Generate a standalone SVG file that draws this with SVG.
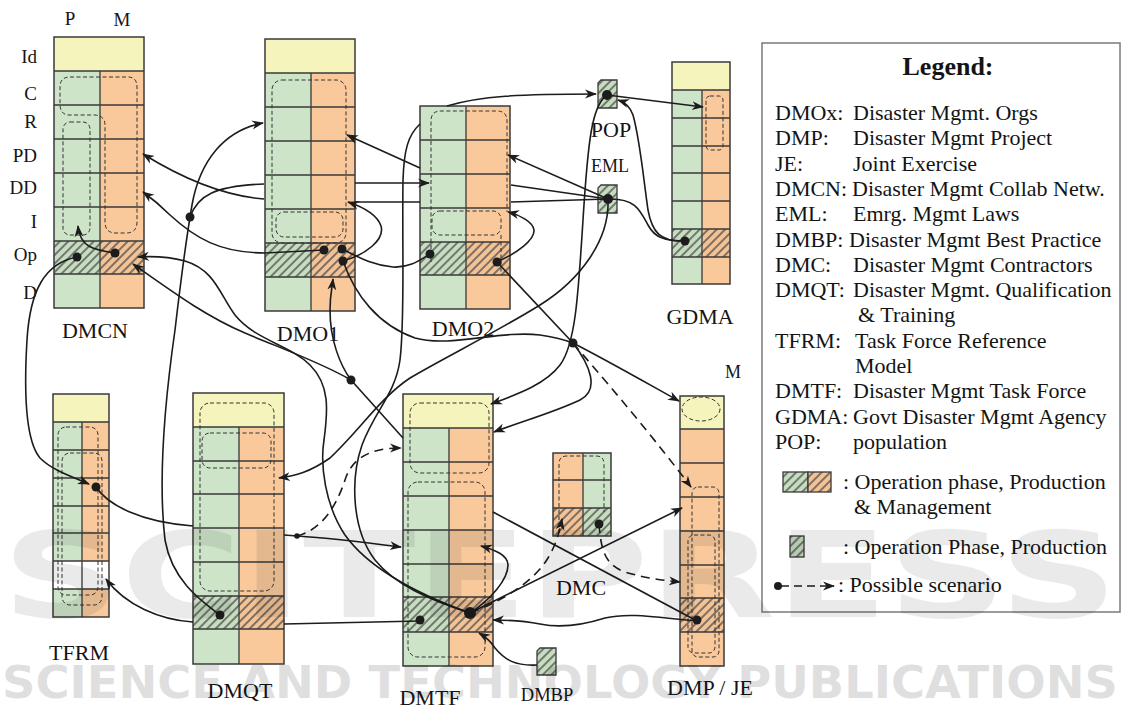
<svg xmlns="http://www.w3.org/2000/svg" width="1121" height="714" viewBox="0 0 1121 714">
<defs>
<style>
.y{fill:#f5f4bc}.g{fill:#cde4c8}.o{fill:#f9c99b}.w{fill:#ffffff}
.hg{fill:url(#hatchG)}.ho{fill:url(#hatchO)}
.grid{fill:none;stroke:#3a3a3a;stroke-width:1.3}
.frame{fill:none;stroke:#3a3a3a;stroke-width:1.5}
.sm{stroke:#3a3a3a;stroke-width:1.3}
.dsh{fill:none;stroke:#333;stroke-width:1;stroke-dasharray:4 2.5}
.c{fill:none;stroke:#1c1c1c;stroke-width:1.6}
.ca{marker-end:url(#arr)}
.cd{stroke-dasharray:9 6}
.dot{fill:#1c1c1c}
.t{font-family:"Liberation Serif","Times New Roman",serif;fill:#141414}
.nl{font-size:22px;text-anchor:middle}
.rl{font-size:19px;text-anchor:end}
.lg{font-size:22px}
</style>
<pattern id="hatchG" patternUnits="userSpaceOnUse" width="6" height="6" patternTransform="rotate(45)">
<rect width="6" height="6" fill="#c6ddc0"/>
<line x1="3" y1="0" x2="3" y2="6" stroke="#4d4d4d" stroke-width="1.4"/>
</pattern>
<pattern id="hatchO" patternUnits="userSpaceOnUse" width="6" height="6" patternTransform="rotate(45)">
<rect width="6" height="6" fill="#f3c295"/>
<line x1="3" y1="0" x2="3" y2="6" stroke="#4d4d4d" stroke-width="1.4"/>
</pattern>
<marker id="arr" viewBox="0 0 12 10" refX="11" refY="5" markerWidth="12" markerHeight="10" markerUnits="userSpaceOnUse" orient="auto">
<path d="M0,0.5 L12,5 L0,9.5 L3.5,5 Z" fill="#1c1c1c"/>
</marker>
</defs>
<rect width="1121" height="714" fill="#ffffff"/>

<g id="DMCN">
<rect class="y" x="54" y="37" width="90" height="34"/>
<rect class="g" x="54" y="71" width="46" height="237"/>
<rect class="o" x="100" y="71" width="44" height="237"/>
<rect class="hg" x="54" y="241" width="46" height="33"/>
<rect class="ho" x="100" y="241" width="44" height="33"/>
<path class="grid" d="M54,71H144M54,105H144M54,139H144M54,173H144M54,207H144M54,241H144M54,274H144M100,71V308"/>
<rect class="frame" x="54" y="37" width="90" height="271"/>
<path class="dsh" d="M70,77 H128 Q137,77 137,87 V222 Q137,233 126,233 H116 Q105,233 105,222 V125 Q105,116 95,115 H68 Q60,114 60,104 V87 Q60,77 70,77 Z"/>
<rect class="dsh" x="63" y="122" width="27" height="113" rx="7"/>
<text class="t" x="70" y="25" font-size="19" text-anchor="middle">P</text>
<text class="t" x="122" y="26" font-size="19" text-anchor="middle">M</text>
<text class="t rl" x="37" y="63">Id</text>
<text class="t rl" x="37" y="100">C</text>
<text class="t rl" x="37" y="128">R</text>
<text class="t rl" x="37" y="162">PD</text>
<text class="t rl" x="37" y="194">DD</text>
<text class="t rl" x="37" y="228">I</text>
<text class="t rl" x="37" y="261">Op</text>
<text class="t rl" x="37" y="299">D</text>
<text class="t nl" x="95" y="338">DMCN</text>
</g>

<g id="DMO1">
<rect class="y" x="265" y="39" width="90" height="34"/>
<rect class="g" x="265" y="73" width="46" height="238"/>
<rect class="o" x="311" y="73" width="44" height="238"/>
<rect class="hg" x="265" y="243" width="46" height="34"/>
<rect class="ho" x="311" y="243" width="44" height="34"/>
<path class="grid" d="M265,73H355M265,107H355M265,141H355M265,175H355M265,209H355M265,243H355M265,277H355M311,73V311"/>
<rect class="frame" x="265" y="39" width="90" height="272"/>
<rect class="dsh" x="272" y="80" width="74" height="163" rx="10"/>
<rect class="dsh" x="276" y="212" width="67" height="25" rx="8"/>
<text class="t nl" x="308" y="341">DMO1</text>
</g>

<g id="DMO2">
<rect class="g" x="420" y="106" width="46" height="203"/>
<rect class="o" x="466" y="106" width="44" height="203"/>
<rect class="hg" x="420" y="242" width="46" height="33"/>
<rect class="ho" x="466" y="242" width="44" height="33"/>
<path class="grid" d="M420,140H510M420,174H510M420,208H510M420,242H510M420,275H510M466,106V309"/>
<rect class="frame" x="420" y="106" width="90" height="203"/>
<path class="dsh" d="M431,262 V121 Q431,111 441,111 H497 Q507,111 507,121 V212"/>
<rect class="dsh" x="432" y="211" width="69" height="24" rx="8"/>
<path class="dsh" d="M501,235 V272"/>
<text class="t nl" x="463" y="336">DMO2</text>
</g>

<g id="GDMA">
<rect class="y" x="672" y="62" width="58" height="28"/>
<rect class="g" x="672" y="90" width="30" height="194"/>
<rect class="o" x="702" y="90" width="28" height="194"/>
<rect class="hg" x="672" y="229" width="30" height="28"/>
<rect class="ho" x="702" y="229" width="28" height="28"/>
<path class="grid" d="M672,90H730M672,118H730M672,146H730M672,173H730M672,201H730M672,229H730M672,257H730M702,90V284"/>
<rect class="frame" x="672" y="62" width="58" height="222"/>
<rect class="dsh" x="706" y="96" width="17" height="54" rx="4"/>
<text class="t nl" x="700" y="324">GDMA</text>
</g>

<g id="POP">
<path class="hg sm" d="M601,80 H617 V108 H598 V83 Z"/>
<text class="t" x="611" y="137" font-size="22" text-anchor="middle">POP</text>
</g>

<g id="EML">
<path class="hg sm" d="M601,185 H617 V213 H598 V188 Z"/>
<text class="t" x="610" y="172" font-size="18" text-anchor="middle">EML</text>
</g>

<g id="TFRM">
<rect class="y" x="53" y="394" width="56" height="28"/>
<rect class="g" x="53" y="422" width="29" height="195"/>
<rect class="o" x="82" y="422" width="27" height="195"/>
<rect class="w" x="53" y="561" width="56" height="28"/>
<path class="grid" d="M53,422H109M53,450H109M53,478H109M53,506H109M53,533H109M53,561H109M53,589H109M82,422V617"/>
<rect class="frame" x="53" y="394" width="56" height="223"/>
<rect class="dsh" x="58" y="427" width="40" height="168" rx="8"/>
<rect class="dsh" x="62" y="453" width="40" height="152" rx="8"/>
<text class="t nl" x="79" y="660">TFRM</text>
</g>

<g id="DMQT">
<rect class="y" x="193" y="393" width="91" height="34"/>
<rect class="g" x="193" y="427" width="46" height="237"/>
<rect class="o" x="239" y="427" width="45" height="237"/>
<rect class="hg" x="193" y="596" width="46" height="33"/>
<rect class="ho" x="239" y="596" width="45" height="33"/>
<path class="grid" d="M193,427H284M193,461H284M193,494H284M193,528H284M193,562H284M193,596H284M193,629H284M239,427V664"/>
<rect class="frame" x="193" y="393" width="91" height="271"/>
<rect class="dsh" x="200" y="403" width="74" height="188" rx="10"/>
<rect class="dsh" x="202" y="433" width="69" height="35" rx="8"/>
<text class="t nl" x="240" y="698">DMQT</text>
</g>

<g id="DMTF">
<rect class="y" x="403" y="394" width="90" height="34"/>
<rect class="g" x="403" y="428" width="46" height="238"/>
<rect class="o" x="449" y="428" width="44" height="238"/>
<rect class="hg" x="403" y="597" width="46" height="35"/>
<rect class="ho" x="449" y="597" width="44" height="35"/>
<path class="grid" d="M403,428H493M403,462H493M403,496H493M403,530H493M403,564H493M403,597H493M403,632H493M449,428V666"/>
<rect class="frame" x="403" y="394" width="90" height="272"/>
<rect class="dsh" x="410" y="403" width="79" height="70" rx="10"/>
<rect class="dsh" x="408" y="482" width="77" height="175" rx="10"/>
<text class="t nl" x="430" y="705">DMTF</text>
</g>

<g id="DMC">
<rect class="o" x="553" y="453" width="30" height="83"/>
<rect class="g" x="583" y="453" width="28" height="83"/>
<rect class="ho" x="553" y="508" width="30" height="28"/>
<rect class="hg" x="583" y="508" width="28" height="28"/>
<path class="grid" d="M553,480H611M553,508H611M583,453V536"/>
<rect class="frame" x="553" y="453" width="58" height="83"/>
<path class="dsh" d="M559,533 V464 Q559,456 567,456 H596 Q604,456 604,464 V512"/>
<text class="t nl" x="581" y="595">DMC</text>
</g>

<g id="DMBP">
<path class="hg sm" d="M540,648 H556 V675 H537 V651 Z"/>
<text class="t" x="547" y="701" font-size="18.5" text-anchor="middle">DMBP</text>
</g>

<g id="DMP_JE">
<rect class="y" x="680" y="396" width="44" height="33"/>
<rect class="o" x="680" y="429" width="44" height="237"/>
<rect class="ho" x="680" y="598" width="44" height="34"/>
<path class="grid" d="M680,429H724M680,463H724M680,497H724M680,531H724M680,565H724M680,598H724M680,632H724"/>
<rect class="frame" x="680" y="396" width="44" height="270"/>
<ellipse class="dsh" cx="701" cy="409" rx="19" ry="12"/>
<rect class="dsh" x="692" y="487" width="27" height="170" rx="6"/>
<rect class="dsh" x="688" y="535" width="27" height="118" rx="6"/>
<text class="t" x="733" y="378" font-size="18" text-anchor="middle">M</text>
<text class="t nl" x="710" y="695">DMP / JE</text>
</g>

<g id="connectors">
<path class="c ca" d="M77,257 C45,263 30,290 27,340 C24,390 25,440 40,458 C52,470 70,476 89,484"/>
<path class="c ca" d="M115,253 C95,250 80,248 78,226"/>
<path class="c" d="M96,487 C108,505 140,522 193,526"/>
<path class="c ca" d="M284,535 L297,536 C330,538 370,543 401,547"/>
<path class="c ca cd" d="M297,536 C320,530 335,510 345,480 C352,458 370,448 401,448"/>
<path class="c" d="M608,199 L511,202"/>
<path class="c" d="M420,202 L355,202"/>
<path class="c ca" d="M264,199 C225,196 185,180 143,154"/>
<path class="c" d="M608,199 L511,185"/>
<path class="c ca" d="M420,168 L347,135"/>
<path class="c ca" d="M608,199 L508,155"/>
<path class="c" d="M190,217 C198,195 215,186 264,184"/>
<path class="c ca" d="M355,183 L429,183"/>
<path class="c ca" d="M220,615 C200,600 172,580 165,540 C158,480 165,400 175,330 C182,270 186,240 192,205 C200,160 225,130 263,123"/>
<path class="c ca" d="M193,622 C160,620 125,605 106,579"/>
<path class="c" d="M284,624 L420,621"/>
<path class="c ca" d="M324,250 L265,253 C220,253 195,238 170,215 C160,205 150,197 143,192"/>
<path class="c" d="M342,249 C355,255 370,265 393,267 C410,268 420,260 430,254"/>
<path class="c ca" d="M343,261 C365,255 385,240 381,226 C377,214 360,206 348,202"/>
<path class="c" d="M343,261 C355,295 378,325 415,338 C450,348 500,330 540,335 C555,337 565,340 573,343"/>
<path class="c" d="M497,262 L573,343"/>
<path class="c ca" d="M497,262 C517,253 535,240 534,230 C533,222 520,215 508,212"/>
<path class="c ca" d="M573,343 C610,362 650,385 679,401"/>
<path class="c ca cd" d="M573,343 C600,375 640,420 691,487"/>
<path class="c ca" d="M573,343 C590,365 600,390 580,400 C555,412 520,422 494,432"/>
<path class="c ca" d="M607,95 C592,105 588,140 583,220 C578,300 575,345 560,365 C545,385 515,395 491,404"/>
<path class="c ca" d="M607,95 L703,107"/>
<path class="c ca" d="M685,241 C660,242 652,232 648,210 C643,175 640,140 633,115 C630,106 624,102 618,100"/>
<path class="c" d="M608,199 C635,198 640,210 648,225 C655,238 665,241 685,241"/>
<path class="c ca" d="M608,199 C610,240 580,280 540,305 C500,330 440,360 410,378 C380,398 360,430 330,458 C310,472 295,476 279,478"/>
<path class="c" d="M470,613 C430,600 395,585 375,560 C352,530 350,480 362,445 C375,410 395,395 400,360 C405,320 402,250 403,180 C404,150 408,135 420,124"/>
<path class="c ca" d="M447,106 C480,96 520,94 596,94"/>
<path class="c ca" d="M470,613 C420,595 370,570 345,535 C325,505 320,465 324,440 C328,410 330,385 310,365 C290,345 255,340 235,315 C220,295 215,270 185,261 C170,257 155,256 138,257"/>
<path class="c ca" d="M351,380 C320,362 280,348 245,333 C205,316 170,290 133,264"/>
<path class="c ca" d="M351,380 C340,365 330,340 330,310 C330,295 332,288 333,279"/>
<path class="c" d="M351,380 L403,438"/>
<path class="c" d="M493,512 L697,621"/>
<path class="c ca" d="M470,613 L682,508"/>
<path class="c ca cd" d="M470,613 C505,600 535,580 548,558 C556,545 560,530 562,519"/>
<path class="c ca" d="M470,613 C490,600 508,580 508,565 C508,555 495,550 481,546"/>
<path class="c ca" d="M697,621 C660,618 630,612 605,618 C580,626 560,628 540,624 C520,620 505,620 493,620"/>
<path class="c ca" d="M537,665 C515,666 505,660 495,648 C490,640 484,636 479,633"/>
<path class="c ca cd" d="M599,524 C601,550 605,565 625,572 C645,578 660,580 680,582"/>
<circle class="dot" cx="77" cy="257" r="4.5"/>
<circle class="dot" cx="115" cy="253" r="4.5"/>
<circle class="dot" cx="324" cy="250" r="4.5"/>
<circle class="dot" cx="342" cy="249" r="4.5"/>
<circle class="dot" cx="343" cy="261" r="4.5"/>
<circle class="dot" cx="430" cy="254" r="4.5"/>
<circle class="dot" cx="497" cy="262" r="4.5"/>
<circle class="dot" cx="607" cy="95" r="5"/>
<circle class="dot" cx="608" cy="199" r="5"/>
<circle class="dot" cx="685" cy="241" r="4.5"/>
<circle class="dot" cx="190" cy="217" r="4.5"/>
<circle class="dot" cx="351" cy="380" r="4.5"/>
<circle class="dot" cx="573" cy="343" r="4.5"/>
<circle class="dot" cx="96" cy="487" r="4.5"/>
<circle class="dot" cx="220" cy="615" r="4.5"/>
<circle class="dot" cx="420" cy="620" r="4.5"/>
<circle class="dot" cx="470" cy="613" r="6"/>
<circle class="dot" cx="599" cy="524" r="4.5"/>
<circle class="dot" cx="697" cy="620" r="4.5"/>
<circle class="dot" cx="297" cy="536" r="2.8"/>
</g>

<g id="legend">
<rect x="762" y="43" width="358" height="569" fill="#ffffff" stroke="#7a7a7a" stroke-width="1.5"/>
<text class="t" x="948" y="75" font-size="26" font-weight="bold" text-anchor="middle">Legend:</text>
<g class="t lg">
<text x="775" y="120">DMOx:</text><text x="853" y="120">Disaster Mgmt. Orgs</text>
<text x="775" y="145">DMP:</text><text x="853" y="145">Disaster Mgmt Project</text>
<text x="775" y="171">JE:</text><text x="853" y="171">Joint Exercise</text>
<text x="775" y="196">DMCN:</text><text x="852" y="196">Disaster Mgmt Collab Netw.</text>
<text x="775" y="221">EML:</text><text x="853" y="221">Emrg. Mgmt Laws</text>
<text x="775" y="247">DMBP:</text><text x="849" y="247">Disaster Mgmt Best Practice</text>
<text x="775" y="272">DMC:</text><text x="853" y="272">Disaster Mgmt Contractors</text>
<text x="775" y="297">DMQT:</text><text x="853" y="297">Disaster Mgmt. Qualification</text>
<text x="858" y="322">&amp; Training</text>
<text x="775" y="348">TFRM:</text><text x="855" y="348">Task Force Reference</text>
<text x="855" y="373">Model</text>
<text x="775" y="398">DMTF:</text><text x="853" y="398">Disaster Mgmt Task Force</text>
<text x="775" y="424">GDMA:</text><text x="853" y="424">Govt Disaster Mgmt Agency</text>
<text x="775" y="449">POP:</text><text x="853" y="449">population</text>
<text x="843" y="489">: Operation phase, Production</text>
<text x="854" y="514">&amp; Management</text>
<text x="843" y="554">: Operation Phase, Production</text>
<text x="838" y="592">: Possible scenario</text>
</g>
<rect class="hg sm" x="783" y="472" width="25" height="20"/>
<rect class="ho sm" x="808" y="472" width="23" height="20"/>
<rect class="hg sm" x="790" y="536" width="14" height="21"/>
<circle class="dot" cx="778" cy="586" r="4"/>
<path class="c cd ca" d="M781,586 L834,586" style="stroke-dasharray:8 5"/>
</g>

<g id="watermark" fill="#000000" font-family="'DejaVu Sans',sans-serif" font-weight="bold">
<text x="2" y="617" font-size="119" textLength="1116" lengthAdjust="spacingAndGlyphs" opacity="0.08">SCITEPRESS</text>
<text x="2" y="698" font-size="45" textLength="1116" lengthAdjust="spacingAndGlyphs" opacity="0.12">SCIENCE AND TECHNOLOGY PUBLICATIONS</text>
</g>
</svg>
